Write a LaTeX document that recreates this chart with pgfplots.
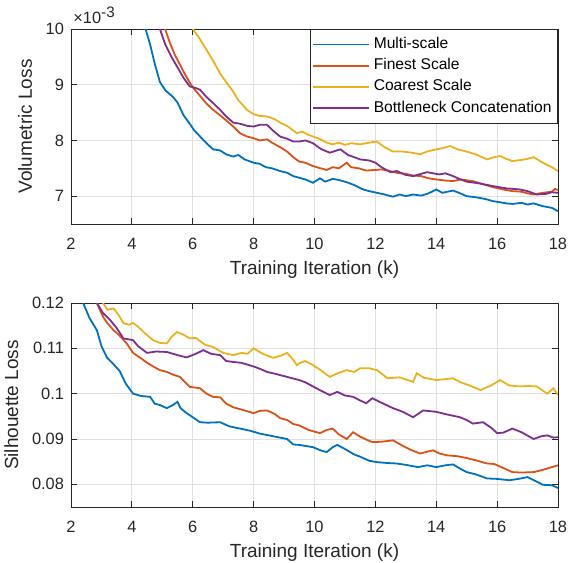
\documentclass[border=0pt]{standalone}
\usepackage{fontspec}
\setmainfont{Liberation Sans}
\usepackage{pgfplots}
\pgfplotsset{compat=1.18}

\definecolor{mblue}{rgb}{0,0.447,0.741}
\definecolor{mred}{rgb}{0.850,0.325,0.098}
\definecolor{myellow}{rgb}{0.929,0.694,0.125}
\definecolor{mpurple}{rgb}{0.494,0.184,0.556}
\definecolor{axgray}{rgb}{0.15,0.15,0.15}

\pgfplotsset{
  mstyle/.style={
    scale only axis, width=243.5pt,
    xmin=2, xmax=18, xtick={2,4,...,18},
    grid=major, major grid style={black!12, line width=0.4pt},
    axis line style={axgray, line width=0.4pt},
    tick style={axgray, line width=0.4pt},
    tick align=inside, major tick length=3pt,
    ticklabel style={font=\fontsize{8.2}{9}\selectfont, text=axgray},
    xticklabel style={yshift=-3.5pt},
    label style={font=\fontsize{9.5}{11}\selectfont, text=axgray},
    xlabel style={yshift=1.5pt},
    /pgf/number format/assume math mode=true,
    scaled y ticks=false,
    xlabel={Training Iteration (k)},
    every axis plot/.append style={line width=0.9pt},
  }
}

\begin{document}
\begin{tikzpicture}
\path[use as bounding box] (-35.5pt,-169.5pt) rectangle (249pt,112pt);

\begin{axis}[mstyle, name=top, at={(0pt,0pt)}, height=97.5pt,
  ymin=6.5, ymax=10, ytick={7,8,9,10},
  ylabel={Volumetric Loss},
  legend cell align=left,
  legend style={at={(rel axis cs:1,1)}, anchor=north east, draw=axgray,
    line width=0.4pt, font=\fontsize{7.8}{9}\selectfont, inner xsep=1pt, inner ysep=2pt, row sep=-0.6pt},
  legend image code/.code={\draw[#1, line width=0.9pt] (0pt,0pt) -- (28pt,0pt);},
]
\addplot[mblue] coordinates {(4.45,10.0) (4.6,9.72) (4.75,9.38) (4.92,9.05) (5.1,8.9) (5.35,8.78) (5.5,8.68) (5.7,8.45) (5.9,8.3) (6.05,8.18) (6.24,8.07) (6.45,7.95) (6.67,7.84) (6.9,7.82) (7.1,7.75) (7.33,7.71) (7.5,7.74) (7.7,7.66) (8.0,7.6) (8.2,7.58) (8.4,7.52) (8.6,7.5) (8.87,7.45) (9.1,7.42) (9.3,7.36) (9.5,7.33) (9.7,7.3) (9.95,7.24) (10.18,7.32) (10.35,7.26) (10.6,7.31) (10.8,7.29) (11.06,7.25) (11.3,7.2) (11.6,7.12) (11.8,7.09) (12.05,7.06) (12.3,7.03) (12.58,6.99) (12.8,7.03) (13.0,7.0) (13.24,7.03) (13.5,7.01) (13.7,7.04) (13.9,7.09) (14.0,7.12) (14.2,7.06) (14.55,7.1) (14.7,7.07) (15.0,7.0) (15.3,6.98) (15.6,6.95) (15.87,6.91) (16.1,6.89) (16.3,6.87) (16.5,6.86) (16.8,6.88) (17.0,6.85) (17.2,6.87) (17.5,6.82) (17.8,6.79) (18,6.73)};
\addlegendentry{Multi-scale}
\addplot[mred] coordinates {(5.09,10.0) (5.25,9.75) (5.4,9.55) (5.58,9.36) (5.75,9.18) (5.9,9.04) (6.05,8.92) (6.24,8.8) (6.45,8.66) (6.67,8.55) (6.9,8.45) (7.1,8.36) (7.33,8.25) (7.55,8.13) (7.78,8.07) (8.0,8.04) (8.2,8.0) (8.44,8.02) (8.6,7.96) (8.87,7.88) (9.1,7.8) (9.3,7.7) (9.5,7.62) (9.7,7.6) (9.95,7.54) (10.2,7.5) (10.4,7.47) (10.6,7.52) (10.8,7.5) (11.06,7.6) (11.2,7.52) (11.45,7.5) (11.7,7.46) (12.0,7.47) (12.2,7.48) (12.4,7.46) (12.7,7.42) (13.0,7.4) (13.24,7.37) (13.5,7.36) (13.75,7.32) (14.0,7.3) (14.3,7.28) (14.55,7.27) (14.8,7.3) (15.2,7.27) (15.5,7.22) (15.87,7.16) (16.2,7.12) (16.5,7.09) (16.8,7.08) (17.0,7.05) (17.2,7.03) (17.5,7.06) (17.8,7.08) (17.9,7.13) (18,7.11)};
\addlegendentry{Finest Scale}
\addplot[myellow] coordinates {(6.0,10.0) (6.2,9.85) (6.46,9.62) (6.7,9.4) (6.9,9.2) (7.12,9.03) (7.3,8.9) (7.5,8.72) (7.78,8.55) (8.0,8.47) (8.2,8.44) (8.44,8.43) (8.7,8.38) (8.87,8.32) (9.1,8.26) (9.3,8.18) (9.42,8.13) (9.6,8.16) (9.8,8.1) (9.95,8.07) (10.2,8.02) (10.4,7.96) (10.6,7.93) (10.8,7.96) (11.0,7.92) (11.2,7.95) (11.5,7.93) (11.8,7.96) (12.05,7.98) (12.3,7.88) (12.58,7.8) (12.9,7.8) (13.2,7.78) (13.47,7.75) (13.7,7.8) (14.0,7.84) (14.2,7.86) (14.45,7.9) (14.7,7.84) (15.0,7.8) (15.3,7.75) (15.67,7.66) (15.9,7.7) (16.1,7.72) (16.3,7.67) (16.5,7.63) (16.8,7.65) (17.0,7.67) (17.2,7.7) (17.5,7.6) (17.8,7.52) (18,7.45)};
\addlegendentry{Coarest Scale}
\addplot[mpurple] coordinates {(4.92,10.0) (5.1,9.72) (5.3,9.5) (5.48,9.33) (5.7,9.12) (5.9,8.97) (6.1,8.94) (6.24,8.91) (6.45,8.78) (6.67,8.67) (6.9,8.55) (7.1,8.43) (7.33,8.32) (7.55,8.3) (7.8,8.26) (8.0,8.25) (8.2,8.28) (8.44,8.28) (8.65,8.17) (8.87,8.07) (9.1,8.03) (9.3,7.98) (9.5,7.98) (9.7,8.0) (9.95,7.95) (10.2,7.85) (10.5,7.78) (10.85,7.84) (11.1,7.74) (11.3,7.7) (11.5,7.66) (11.8,7.64) (12.0,7.6) (12.2,7.52) (12.5,7.43) (12.7,7.45) (13.0,7.38) (13.24,7.36) (13.5,7.4) (13.7,7.43) (14.1,7.39) (14.3,7.41) (14.55,7.36) (14.8,7.3) (15.0,7.26) (15.4,7.23) (15.87,7.18) (16.3,7.14) (16.75,7.12) (17.0,7.09) (17.3,7.03) (17.6,7.04) (17.8,7.07) (18,7.06)};
\addlegendentry{Bottleneck Concatenation}
\end{axis}
\node[anchor=south west, inner sep=0pt, yshift=2.5pt, xshift=1pt, font=\fontsize{8.2}{9}\selectfont, text=axgray]
  at (top.north west) {×10\raisebox{3.2pt}{\fontsize{7.6}{8}\selectfont -3}};

\begin{axis}[mstyle, at={(0pt,-141.5pt)}, height=102pt,
  ymin=0.075, ymax=0.12, ytick={0.08,0.09,0.1,0.11,0.12},
  yticklabels={0.08,0.09,0.1,0.11,0.12},
  ylabel={Silhouette Loss},
]
\addplot[mblue] coordinates {(2.4,0.120) (2.6,0.1168) (2.85,0.114) (3.0,0.1105) (3.18,0.108) (3.4,0.1065) (3.6,0.105) (3.8,0.1022) (4.04,0.100) (4.3,0.0995) (4.6,0.0993) (4.75,0.0978) (4.92,0.0975) (5.15,0.0968) (5.35,0.0975) (5.5,0.0982) (5.6,0.0968) (5.8,0.0957) (6.0,0.0948) (6.24,0.0937) (6.5,0.0936) (6.9,0.0937) (7.2,0.0928) (7.55,0.0923) (7.9,0.0918) (8.2,0.0912) (8.5,0.0908) (8.87,0.0903) (9.1,0.09) (9.3,0.0888) (9.5,0.0887) (9.95,0.0882) (10.2,0.0875) (10.4,0.0871) (10.6,0.0882) (10.75,0.0887) (11.0,0.0878) (11.3,0.0866) (11.5,0.0861) (11.8,0.0852) (12.05,0.0849) (12.4,0.0847) (12.7,0.0846) (13.0,0.0843) (13.4,0.0838) (13.7,0.0842) (14.0,0.0838) (14.3,0.0842) (14.55,0.0844) (14.8,0.0834) (15.0,0.0827) (15.3,0.0822) (15.67,0.0813) (16.0,0.0812) (16.4,0.0809) (16.7,0.0812) (17.0,0.0816) (17.3,0.0806) (17.5,0.0799) (17.8,0.0798) (18,0.0792)};
\addplot[mred] coordinates {(2.85,0.120) (3.05,0.117) (3.2,0.1155) (3.4,0.114) (3.6,0.1128) (3.84,0.111) (4.04,0.109) (4.3,0.1078) (4.5,0.1068) (4.7,0.106) (4.92,0.1052) (5.15,0.1048) (5.35,0.1042) (5.58,0.1037) (5.75,0.1025) (5.9,0.1015) (6.24,0.1012) (6.45,0.1) (6.67,0.0993) (6.9,0.0992) (7.1,0.0978) (7.33,0.097) (7.6,0.0965) (8.0,0.0957) (8.2,0.0962) (8.44,0.0963) (8.7,0.0955) (8.87,0.0946) (9.1,0.0942) (9.3,0.0933) (9.5,0.093) (9.8,0.092) (10.18,0.0913) (10.4,0.092) (10.6,0.0923) (10.8,0.091) (11.06,0.0900) (11.27,0.0915) (11.5,0.0905) (11.9,0.0893) (12.2,0.0894) (12.58,0.0897) (12.9,0.0885) (13.2,0.0875) (13.47,0.0868) (13.7,0.0872) (13.9,0.0875) (14.1,0.0868) (14.35,0.0864) (14.7,0.0862) (15.0,0.0858) (15.3,0.0853) (15.67,0.0846) (15.9,0.0845) (16.2,0.0836) (16.5,0.0827) (16.8,0.0826) (17.2,0.0827) (17.5,0.0832) (17.8,0.0838) (18,0.0842)};
\addplot[myellow] coordinates {(3.05,0.120) (3.2,0.1185) (3.4,0.1188) (3.55,0.1175) (3.72,0.1156) (3.9,0.1152) (4.04,0.1156) (4.2,0.1148) (4.45,0.1132) (4.7,0.1118) (4.92,0.1112) (5.15,0.1111) (5.3,0.1125) (5.48,0.1136) (5.7,0.113) (5.9,0.1122) (6.1,0.1123) (6.4,0.1108) (6.67,0.1103) (7.0,0.109) (7.33,0.1085) (7.6,0.109) (7.8,0.1088) (8.0,0.11) (8.3,0.1088) (8.64,0.1079) (8.9,0.1084) (9.1,0.109) (9.3,0.1075) (9.42,0.1063) (9.5,0.1067) (9.7,0.1072) (9.95,0.1063) (10.2,0.1052) (10.5,0.1037) (10.8,0.1046) (11.06,0.1052) (11.3,0.1048) (11.5,0.1056) (11.8,0.1056) (12.05,0.1052) (12.4,0.1034) (12.8,0.1036) (13.24,0.1026) (13.36,0.1045) (13.6,0.1035) (14.0,0.103) (14.3,0.1032) (14.55,0.1034) (14.8,0.1025) (15.1,0.1018) (15.45,0.1008) (15.8,0.1018) (16.1,0.103) (16.4,0.1018) (16.75,0.1016) (17.0,0.1017) (17.3,0.1016) (17.65,0.1000) (17.85,0.1012) (18,0.0997)};
\addplot[mpurple] coordinates {(2.85,0.120) (3.05,0.1178) (3.28,0.1163) (3.5,0.1145) (3.72,0.1122) (4.04,0.1118) (4.2,0.1105) (4.5,0.109) (4.8,0.1093) (5.15,0.1092) (5.5,0.1085) (5.8,0.108) (6.1,0.1088) (6.35,0.1096) (6.6,0.1088) (6.9,0.1085) (7.1,0.1072) (7.33,0.107) (7.6,0.1068) (8.0,0.106) (8.2,0.1055) (8.44,0.1048) (8.7,0.1044) (8.87,0.1041) (9.1,0.1037) (9.5,0.103) (9.7,0.1025) (9.95,0.1016) (10.2,0.1007) (10.5,0.0997) (10.75,0.1004) (11.0,0.0996) (11.27,0.0993) (11.5,0.0985) (11.7,0.0979) (11.9,0.099) (12.2,0.098) (12.58,0.0968) (12.9,0.096) (13.24,0.0948) (13.57,0.0963) (14.0,0.096) (14.3,0.0955) (14.78,0.0948) (15.0,0.0942) (15.2,0.0934) (15.54,0.0937) (15.8,0.0925) (16.0,0.0913) (16.2,0.0914) (16.5,0.0923) (16.8,0.0915) (17.2,0.0900) (17.45,0.0906) (17.65,0.0908) (17.85,0.0903) (18,0.0904)};
\end{axis}
\end{tikzpicture}
\end{document}
